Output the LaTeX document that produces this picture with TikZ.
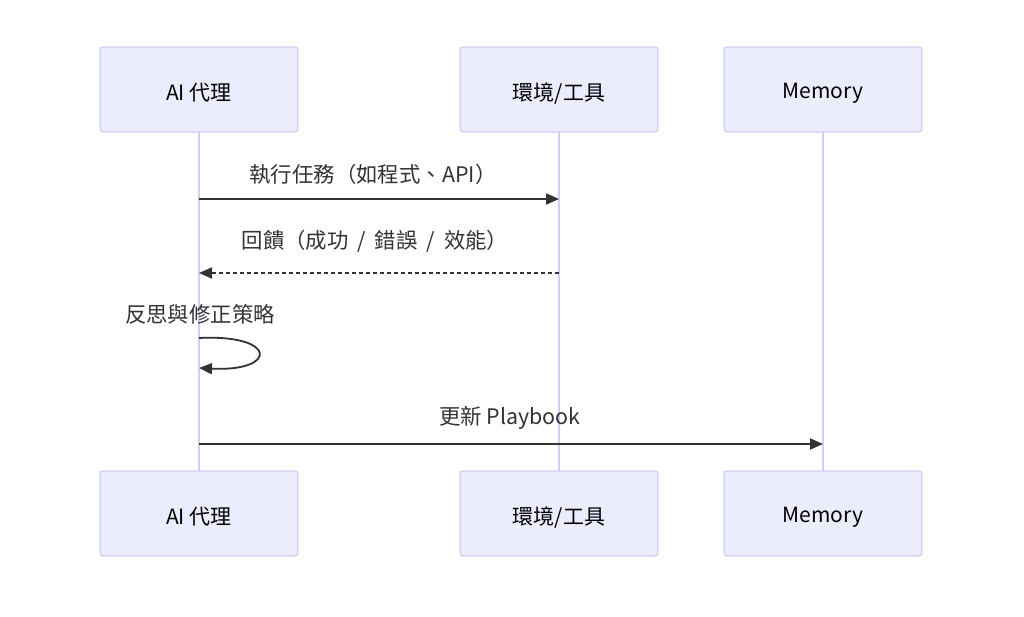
\documentclass[tikz,border=0pt]{standalone}
\usepackage{fontspec}
\setmainfont{Noto Sans CJK TC}
\usetikzlibrary{arrows.meta}
\definecolor{actfill}{HTML}{ECECFF}
\definecolor{actline}{HTML}{D5CCF3}
\definecolor{txt}{HTML}{333333}
\newcommand{\lowtext}[2]{\raisebox{-#1}[\height][\depth]{#2}}
\newcommand{\myslash}{\hspace{0.42em}/\hspace{0.42em}}
\tikzset{
  actor/.style={draw=actline, fill=actfill, line width=1.3pt, rounded corners=3pt,
    minimum width=198pt, minimum height=85pt, inner sep=0pt, text=black,
    font=\fontsize{21}{25}\selectfont},
  lifeline/.style={draw=actline, line width=2pt},
  msg/.style={draw=txt, line width=1.8pt, -{Triangle[length=13pt,width=11pt]}},
  msgd/.style={msg, dash pattern=on 4pt off 3pt},
  lbl/.style={text=txt, font=\fontsize{21.4}{25}\selectfont, inner sep=0pt},
}
\begin{document}
\begin{tikzpicture}[x=1pt,y=-1pt]
\useasboundingbox[fill=white] (0,0) rectangle (1024,617);
% lifelines first
\coordinate (l1t) at (199,132); \coordinate (l1b) at (199,471);
\coordinate (l2t) at (559,132); \coordinate (l2b) at (559,471);
\coordinate (l3t) at (823,132); \coordinate (l3b) at (823,471);
\draw[lifeline] (l1t) -- (l1b);
\draw[lifeline] (l2t) -- (l2b);
\draw[lifeline] (l3t) -- (l3b);
% actors
\node[actor] (aiT) at (199,89.5) {\lowtext{3.5pt}{AI 代理}};
\node[actor] (envT) at (559,89.5) {\lowtext{3.5pt}{環境/工具}};
\node[actor] (memT) at (823,89.5) {\lowtext{3.5pt}{Memory}};
\node[actor] (aiB) at (199,513.5) {\lowtext{3.5pt}{AI 代理}};
\node[actor] (envB) at (559,513.5) {\lowtext{3.5pt}{環境/工具}};
\node[actor] (memB) at (823,513.5) {\lowtext{3.5pt}{Memory}};
% messages
\coordinate (m1a) at (199,199); \coordinate (m1b) at (559,199);
\node[lbl] (t1) at (373,174) {執行任務（如程式、API）};
\draw[msg] (m1a) -- (m1b);
\coordinate (m2a) at (559,273); \coordinate (m2b) at (199,273);
\node[lbl] (t2) at (375,241) {回饋（成功\myslash 錯誤\myslash 效能）};
\draw[msgd] (m2a) -- (m2b);
\coordinate (m3a) at (199,338); \coordinate (m3b) at (199,368);
\node[lbl] (t3) at (200,314) {反思與修正策略};
\draw[msg] (m3a) .. controls (278,334) and (278,372) .. (m3b);
\coordinate (m4a) at (199,444); \coordinate (m4b) at (823,444);
\node[lbl] (t4) at (510,417.5) {更新 Playbook};
\draw[msg] (m4a) -- (m4b);
\end{tikzpicture}
\end{document}
